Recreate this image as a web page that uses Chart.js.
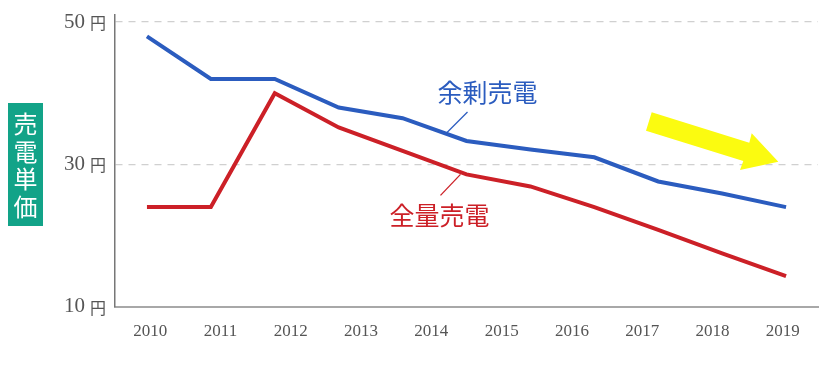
<!DOCTYPE html>
<html><head><meta charset="utf-8">
<script src="https://cdn.jsdelivr.net/npm/chart.js@4/dist/chart.umd.min.js"></script>
<style>html,body{margin:0;padding:0;background:#fff}#wrap{width:830px;height:370px}</style>
</head><body><div id="wrap"><canvas id="c" width="830" height="370"></canvas></div>
<script>
const yearLabels = ['2010','2011','2012','2013','2014','2015','2016','2017','2018','2019'];
const pointSlots = ['p0','p1','p2','p3','p4','p5','p6','p7','p8','p9','p10'];
const surplusValues = [48.0, 42.0, 42.0, 38.0, 36.5, 33.3, 32.1, 31.0, 27.6, 25.9, 24.0];
const fullValues = [24.0, 24.0, 40.0, 35.2, 31.9, 28.6, 26.9, 24.0, 20.8, 17.5, 14.3];
const yTickValues = [10, 30, 50];
const yUnit = '円';
const axisTitle = ['売','電','単','価'];
const surplusLabel = '余剰売電';
const fullLabel = '全量売電';

const BLUE = '#2b5cbf', RED = '#cc2027';
const serif = '"Liberation Serif","DejaVu Serif",serif';
const jp = '"Noto Sans CJK JP","Noto Sans CJK SC",sans-serif';

const decor = {
  id: 'decor',
  afterDraw(chart) {
    const ctx = chart.ctx, y = chart.scales.y, x2 = chart.scales.x2;
    ctx.save();
    // y tick labels
    yTickValues.forEach(v => {
      const py = y.getPixelForValue(v);
      ctx.fillStyle = '#555';
      ctx.textBaseline = 'middle';
      ctx.textAlign = 'right';
      ctx.font = '16px ' + jp;
      ctx.fillText(yUnit, 106, py + 1);
      ctx.font = '21px ' + serif;
      ctx.fillText(String(v), 85, py);
    });
    // axis title box
    ctx.fillStyle = '#12a388';
    ctx.fillRect(8, 103, 35, 123);
    ctx.fillStyle = '#fff';
    ctx.font = '24px ' + jp;
    ctx.textAlign = 'center';
    ctx.textBaseline = 'middle';
    axisTitle.forEach((ch, i) => ctx.fillText(ch, 25.5, 124 + i * 27.5));
    // annotations anchored to data points
    const bx = x2.getPixelForValue(5), byv = y.getPixelForValue(surplusValues[5]);
    ctx.strokeStyle = BLUE; ctx.lineWidth = 1.3;
    ctx.beginPath(); ctx.moveTo(bx + 1, byv - 29); ctx.lineTo(bx - 20, byv - 8); ctx.stroke();
    ctx.fillStyle = BLUE; ctx.font = '25px ' + jp;
    ctx.fillText(surplusLabel, bx + 21, byv - 48);
    const ry = y.getPixelForValue(fullValues[5]);
    ctx.strokeStyle = RED;
    ctx.beginPath(); ctx.moveTo(bx - 6, ry); ctx.lineTo(bx - 26, ry + 21); ctx.stroke();
    ctx.fillStyle = RED;
    ctx.fillText(fullLabel, bx - 27, ry + 41);
    // yellow arrow
    ctx.fillStyle = '#fbfb10';
    ctx.beginPath();
    ctx.moveTo(651.7, 112.3);
    ctx.lineTo(749.3, 142.7);
    ctx.lineTo(751.7, 133.3);
    ctx.lineTo(778.3, 161.7);
    ctx.lineTo(740, 170);
    ctx.lineTo(743.3, 161);
    ctx.lineTo(646, 130.7);
    ctx.closePath();
    ctx.fill();
    ctx.restore();
  }
};

new Chart(document.getElementById('c'), {
  type: 'line',
  data: {
    labels: pointSlots,
    datasets: [
      { label: surplusLabel, data: surplusValues, xAxisID: 'x2', borderColor: BLUE, borderWidth: 4, pointRadius: 0, tension: 0, fill: false },
      { label: fullLabel, data: fullValues, xAxisID: 'x2', borderColor: RED, borderWidth: 4, pointRadius: 0, tension: 0, fill: false }
    ]
  },
  options: {
    responsive: false,
    animation: false,
    layout: { padding: { top: 15, right: 12, left: 0, bottom: 0 } },
    plugins: { legend: { display: false }, tooltip: { enabled: false } },
    scales: {
      x: {
        type: 'category', labels: yearLabels, offset: true, position: 'bottom',
        grid: { display: false, drawTicks: false },
        border: { display: true, color: '#a8a8a8', width: 2 },
        ticks: { color: '#555', font: { family: serif, size: 17 }, padding: 15, maxRotation: 0, autoSkip: false },
        afterFit(s) { s.height = 63.3; }
      },
      x2: {
        type: 'category', labels: pointSlots, offset: true, display: false
      },
      y: {
        min: 10, max: 51,
        afterBuildTicks(s) { s.ticks = yTickValues.map(v => ({ value: v })); },
        ticks: { display: false },
        grid: { drawTicks: false, color: ctx => (ctx.tick && ctx.tick.value === 10) ? 'rgba(0,0,0,0)' : '#d0d0d0', lineWidth: 1.3 },
        border: { display: true, color: '#777', width: 1.5, dash: [7, 6] },
        afterFit(s) { s.width = 115; }
      }
    }
  },
  plugins: [decor]
});
</script>
</body></html>
